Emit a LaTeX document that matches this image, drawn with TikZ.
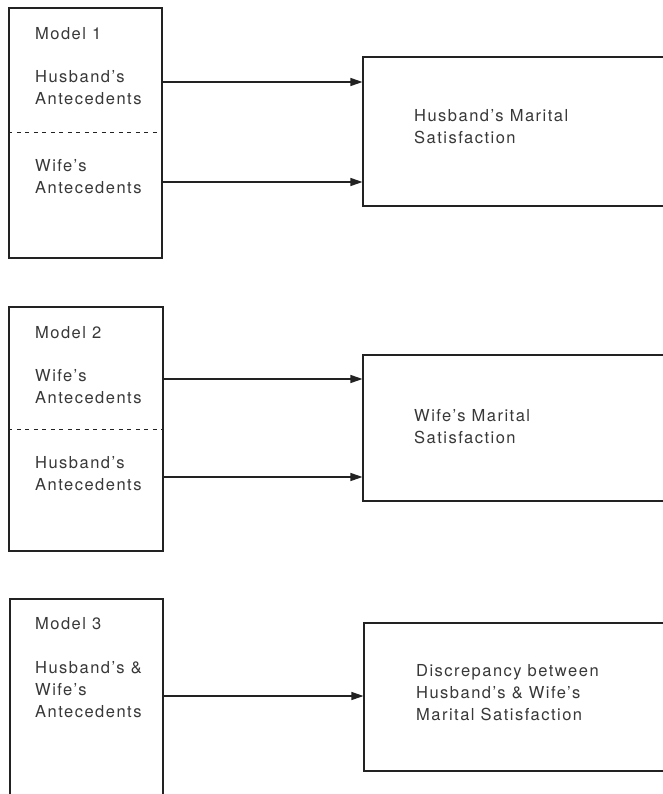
\documentclass[tikz,border=0pt]{standalone}
\usepackage{fontspec}
\setmainfont{TeX Gyre Heros}[LetterSpace=9]
\usetikzlibrary{arrows.meta}
\definecolor{ink}{HTML}{222222}
\definecolor{txt}{HTML}{383838}
\tikzset{
  box/.style={draw=ink, line width=1.1pt, rectangle, inner sep=0pt},
  lbl/.style={text=txt, font=\fontsize{16.5}{22}\selectfont, align=left, anchor=base west, inner sep=0pt},
  arr/.style={draw=ink, line width=1.1pt, -{Triangle[length=12pt,width=8pt]}},
  sep/.style={draw=ink, line width=0.8pt, dash pattern=on 4pt off 4.5pt}
}
\begin{document}
\begin{tikzpicture}[x=1pt, y=-1pt]
\useasboundingbox (0,0) rectangle (663,794);
\clip (0,0) rectangle (663,794);
\fill[white] (0,0) rectangle (663,794);

% Model 1
\node[box, minimum width=153pt, minimum height=250pt] (l1) at (85.5,133) {};
\node[box, minimum width=330pt, minimum height=149pt] (r1) at (528,131.5) {};
\coordinate (yd1) at (0,132);
\draw[sep] (l1.west |- yd1) -- (l1.east |- yd1);
\node[lbl] (m1) at (35,40) {Model 1};
\node[lbl] (h1) at (35,105) {Husband's\\Antecedents};
\node[lbl] (w1) at (35,194) {Wife's\\Antecedents};
\node[lbl] (s1) at (414,144) {Husband's Marital\\Satisfaction};
\coordinate (y1a) at (0,82);
\coordinate (y1b) at (0,182);
\draw[arr] (l1.east |- y1a) -- (r1.west |- y1a);
\draw[arr] (l1.east |- y1b) -- (r1.west |- y1b);

% Model 2
\node[box, minimum width=154pt, minimum height=244pt] (l2) at (86,429) {};
\node[box, minimum width=330pt, minimum height=146pt] (r2) at (528,428) {};
\coordinate (yd2) at (0,429);
\draw[sep] (l2.west |- yd2) -- (l2.east |- yd2);
\node[lbl] (m2) at (35,338) {Model 2};
\node[lbl] (w2) at (35,403) {Wife's\\Antecedents};
\node[lbl] (h2) at (35,490) {Husband's\\Antecedents};
\node[lbl] (s2) at (414,443) {Wife's Marital\\Satisfaction};
\coordinate (y2a) at (0,379);
\coordinate (y2b) at (0,477);
\draw[arr] (l2.east |- y2a) -- (r2.west |- y2a);
\draw[arr] (l2.east |- y2b) -- (r2.west |- y2b);

% Model 3
\node[box, minimum width=153pt, minimum height=230pt] (l3) at (86.5,714) {};
\node[box, minimum width=330pt, minimum height=148pt] (r3) at (529,697) {};
\node[lbl] (m3) at (35,629) {Model 3};
\node[lbl] (h3) at (35,717) {Husband's \&\\Wife's\\Antecedents};
\node[lbl] (s3) at (416,720) {Discrepancy between\\Husband's \& Wife's\\Marital Satisfaction};
\coordinate (y3) at (0,696);
\draw[arr] (l3.east |- y3) -- (r3.west |- y3);
\end{tikzpicture}
\end{document}
